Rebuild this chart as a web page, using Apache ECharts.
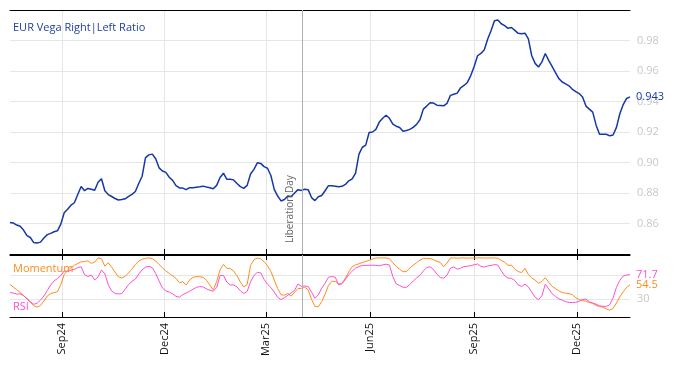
<!DOCTYPE html>
<html><head><meta charset="utf-8">
<script src="https://cdn.jsdelivr.net/npm/echarts@6/dist/echarts.min.js"></script>
<style>html,body{margin:0;padding:0;background:#fff}#c{width:674px;height:366px}</style>
</head><body><div id="c"></div>
<script>
// ---- data ----
const startDate = '2024-07-17';   // first observation
const stepDays = 3;               // observation spacing (calendar days)
const axisEnd = '2026-01-17';
const quarterTicks = ['2024-09-01','2024-12-01','2025-03-01','2025-06-01','2025-09-01','2025-12-01'];
const eventDate = '2025-04-02';
const eventName = 'Liberation Day';
const rsiLevels = [30, 70];
const rsiLabelLevels = [30];

const vegaRatio = [
.8607,.8603,.859,.8582,.8557,.852,.8508,.8475,.8472,.8478,
.8505,.8527,.8535,.8546,.8552,.8596,.867,.8694,.872,.8736,
.879,.8843,.8815,.883,.8824,.8818,.887,.8893,.8815,.879,
.8777,.8764,.8754,.8757,.8762,.8778,.8791,.881,.8862,.891,
.9032,.905,.9055,.9025,.8965,.8944,.8935,.8903,.8883,.8848,
.8833,.8832,.8822,.8835,.8835,.8838,.8841,.8845,.8839,.8835,
.8828,.885,.8902,.893,.889,.889,.8886,.8862,.8842,.883,
.885,.8925,.8955,.8998,.8994,.8973,.8962,.8915,.8824,.878,
.8748,.8757,.8781,.8777,.88,.8822,.8817,.8825,.8822,.877,
.875,.8775,.8784,.8815,.8848,.8848,.8845,.8841,.8844,.8856,
.888,.8893,.893,.9055,.91,.9114,.9197,.92,.9217,.9265,
.929,.931,.929,.9252,.9238,.923,.9205,.921,.9217,.923,
.925,.928,.935,.937,.9392,.939,.9376,.9374,.9372,.9388,
.944,.9448,.9455,.949,.9505,.9525,.957,.963,.970,.9715,
.974,.981,.9865,.993,.9935,.991,.9898,.988,.9885,.9866,
.9847,.9845,.9848,.981,.970,.965,.9626,.966,.9715,.967,
.963,.959,.955,.9528,.9516,.9503,.948,.9465,.9452,.943,
.937,.935,.933,.9245,.9185,.9185,.9185,.9175,.918,.923,
.932,.938,.942,.943
];
const momentum = [
55,50.5,46,41.5,36.5,30.5,25,19.3,16.8,19.5,
27,35.5,39.6,41.2,42.8,55,72,79,83.5,87.5,
90.6,93.6,93.7,95.3,90.8,93,100,98.6,86,92,
84.4,76,68,66,69,74.8,81,89,94.5,97.9,
99.4,100,99,94.8,89,83.3,78,73.8,69.6,65.4,
58,59.7,54.4,62.3,67.2,68.4,68.4,67.1,62.2,53.8,
46,60,79.7,89,82.4,82.2,77.8,70,59,51,
55,87.3,97.1,99.8,98.4,93.6,86.9,77.2,62.6,48.4,
37.6,37,39.8,35.4,42,48,48.6,50.2,46,30,
17.8,17.2,26,38.5,53.4,60.4,60.3,56.2,56.7,65.8,
76.5,85.2,88.2,90.1,92.3,94.1,95.9,98.2,100,100,
100,100,99,91.9,85.7,81,76.5,77.3,82.7,87.7,
91.8,96.3,99.2,99.2,99.2,97,94.4,92.3,85,91.5,
100,100,99.6,100,100,99.6,100,99.8,100,100,
100,99.7,100,100,99.5,96,92.8,87.5,87.8,81,
77,75.2,82.4,71.8,66.2,62.4,57.2,60.2,66.5,59,
52,48,44.3,41.3,40.5,39.6,38,32.5,29.5,27.8,
26.8,24.5,23.2,19.5,17.7,16.7,13.8,11.6,14.5,23.8,
34.1,42.8,50.2,54.5
];
const rsi = [
41.5,40.4,39,39,36,31.7,26,21.6,23.3,28.7,
35.5,44.8,54.2,61.3,65,70.3,78,77.1,79.2,80.6,
83.7,85,71.7,68.5,71.1,62.6,68,79.6,73,54.6,
44,40,39,39.7,47,55,60.4,64.3,72.7,79.8,
84.5,86,83.5,73.5,61,49.2,44.2,42.3,39.1,35,
33.5,37.8,40.7,43.5,47,50.1,51.5,50.9,47.7,45.2,
43.7,50,70.3,70.5,59.3,54.2,54.2,51,44.2,39.8,
43.3,59.6,70.5,75.6,74.8,63.6,55.6,50,42.2,33.4,
29.4,32.7,36.8,40.8,45.2,55.9,52,52.4,51.6,42,
31.8,37.3,48.6,57.2,67.3,68.4,67.4,54.3,56.6,63.6,
71.9,77.5,82.7,85.5,87.4,87.4,87.5,87.7,87.5,86.7,
88.3,89.3,88,68.4,56,53.3,50.4,50.2,55,60.7,
66.2,70.5,78,84,85.1,80.4,72.4,67,65.7,71,
82.6,84.8,80.9,82.8,85.3,86,87,88.4,89.8,85.8,
84.6,86.4,87.3,88.8,88,78.3,70,65.8,65.5,61.8,
54.4,51.6,55.7,51,42,33.5,29.4,36,55.5,47.5,
39.4,34.8,30.8,28.5,26,24.8,24.5,24.9,26.6,29.6,
30.5,25.7,23.8,21.6,19,18.1,17.9,20.7,32,50.2,
62.1,69.3,71,71.7
];

// ---- build ----
const DAY = 86400000;
const t0 = Date.parse(startDate);
const dates = vegaRatio.map((_, i) => t0 + i * stepDays * DAY);
const pairs = arr => arr.map((v, i) => [dates[i], v]);
const qt = quarterTicks.map(d => Date.parse(d));
const MON = ['Jan','Feb','Mar','Apr','May','Jun','Jul','Aug','Sep','Oct','Nov','Dec'];
const fmtDate = v => { const d = new Date(v); return MON[d.getUTCMonth()] + String(d.getUTCFullYear()).slice(2); };
const FONT = 'Open Sans';
const BLUE = '#1538a8', ORANGE = '#ff8c1a', PINK = '#ff4fd2';
const xMin = Date.parse(startDate), xMax = Date.parse(axisEnd);
const black = { show: true, onZero: false, lineStyle: { color: '#000', width: 1 } };
const grid = '#e6e6e6';

const chart = echarts.init(document.getElementById('c'), null, { renderer: 'canvas' });
chart.setOption({
  animation: false,
  textStyle: { fontFamily: FONT },
  title: [
    { text: 'EUR Vega Right|Left Ratio', left: 8, top: 17, textStyle: { color: '#1f3f9f', fontSize: 11, fontWeight: 'normal', fontFamily: FONT } },
    { text: 'Momentum', left: 8, top: 258, textStyle: { color: ORANGE, fontSize: 11, fontWeight: 'normal', fontFamily: FONT } },
    { text: 'RSI', left: 8, top: 296, textStyle: { color: PINK, fontSize: 11, fontWeight: 'normal', fontFamily: FONT } }
  ],
  grid: [
    { left: 10, right: 44, top: 10, height: 244 },
    { left: 10, right: 44, top: 255, height: 62 }
  ],
  xAxis: [
    { type: 'value', gridIndex: 0, min: xMin, max: xMax, position: 'bottom', axisLine: black,
      axisTick: { show: true, inside: true, length: 5, customValues: qt, lineStyle: { color: '#000' } },
      axisLabel: { show: false, customValues: qt },
      splitLine: { show: true, lineStyle: { color: grid } } },
    { type: 'value', gridIndex: 0, min: xMin, max: xMax, position: 'top', axisLine: black,
      axisTick: { show: false }, axisLabel: { show: false }, splitLine: { show: false } },
    { type: 'value', gridIndex: 1, min: xMin, max: xMax, position: 'bottom', axisLine: black,
      axisTick: { show: true, inside: true, length: 5, customValues: qt, lineStyle: { color: '#000' } },
      axisLabel: { show: true, customValues: qt, rotate: 90, formatter: fmtDate, color: '#111', fontSize: 11, fontFamily: FONT, margin: 6 },
      splitLine: { show: true, lineStyle: { color: grid } } },
    { type: 'value', gridIndex: 1, min: xMin, max: xMax, position: 'top', axisLine: black,
      axisTick: { show: true, inside: true, length: 5, customValues: qt, lineStyle: { color: '#000' } },
      axisLabel: { show: false, customValues: qt }, splitLine: { show: false } }
  ],
  yAxis: [
    { type: 'value', gridIndex: 0, position: 'right', min: 0.84, max: 1.0, interval: 0.02,
      axisLine: { show: false }, axisTick: { show: false },
      axisLabel: { color: '#c8c8c8', fontSize: 11, fontFamily: FONT, margin: 7, showMinLabel: false, showMaxLabel: false,
        formatter: v => v.toFixed(2) },
      splitLine: { show: true, lineStyle: { color: grid } } },
    { type: 'value', gridIndex: 1, position: 'right', min: 0, max: 105,
      axisLine: { show: false }, axisTick: { show: false, customValues: rsiLevels },
      axisLabel: { color: '#c8c8c8', fontSize: 11, fontFamily: FONT, margin: 7, customValues: rsiLabelLevels },
      splitLine: { show: true, lineStyle: { color: grid } } }
  ],
  series: [
    { name: 'EUR Vega Right|Left Ratio', type: 'line', xAxisIndex: 0, yAxisIndex: 0, data: pairs(vegaRatio),
      showSymbol: false, lineStyle: { color: BLUE, width: 1.5 }, itemStyle: { color: BLUE },
      endLabel: { show: true, formatter: p => p.value[1].toFixed(3), color: BLUE, fontSize: 11, fontFamily: FONT, distance: 6 },
      markLine: { silent: true, symbol: ['none', 'none'], animation: false,
        lineStyle: { color: '#b0b0b0', width: 1, type: 'solid' },
        label: { show: true, formatter: eventName, position: 'insideStartTop', color: '#666', fontSize: 10, fontFamily: FONT, distance: [11, 7] },
        data: [{ xAxis: Date.parse(eventDate) }] } },
    { name: 'Momentum', type: 'line', xAxisIndex: 2, yAxisIndex: 1, data: pairs(momentum),
      showSymbol: false, lineStyle: { color: ORANGE, width: 1 }, itemStyle: { color: ORANGE },
      endLabel: { show: true, formatter: p => String(p.value[1]), color: ORANGE, fontSize: 11, fontFamily: FONT, distance: 6 },
      markLine: { silent: true, symbol: ['none', 'none'], animation: false,
        lineStyle: { color: '#b0b0b0', width: 1, type: 'solid' }, label: { show: false },
        data: [{ xAxis: Date.parse(eventDate) }] } },
    { name: 'RSI', type: 'line', xAxisIndex: 2, yAxisIndex: 1, data: pairs(rsi),
      showSymbol: false, lineStyle: { color: PINK, width: 1 }, itemStyle: { color: PINK },
      endLabel: { show: true, formatter: p => String(p.value[1]), color: PINK, fontSize: 11, fontFamily: FONT, distance: 6 } }
  ]
});
</script></body></html>
